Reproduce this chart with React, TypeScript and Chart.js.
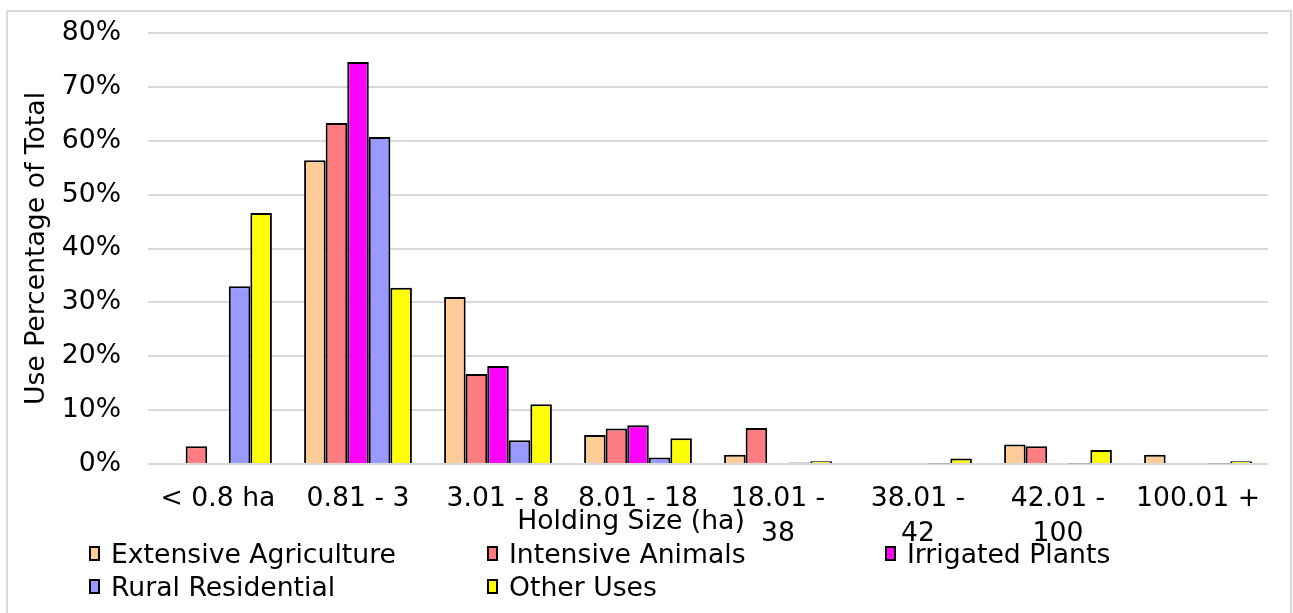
import React, { useEffect, useRef } from "react";
import { Chart, registerables } from "chart.js";

Chart.register(...registerables);

const categories: (string | string[])[] = [
  "< 0.8 ha",
  "0.81 - 3",
  "3.01 - 8",
  "8.01 - 18",
  ["18.01 -", "38"],
  ["38.01 -", "42"],
  ["42.01 -", "100"],
  "100.01 +",
];

const extensiveAgriculture = [0, 56.4, 31.0, 5.4, 1.7, 0, 3.6, 1.7];
const intensiveAnimals = [3.3, 63.3, 16.7, 6.6, 6.7, 0, 3.3, 0];
const irrigatedPlants = [0, 74.6, 18.2, 7.2, 0, 0, 0, 0];
const ruralResidential = [33.0, 60.7, 4.4, 1.2, 0.3, 0.1, 0.1, 0.1];
const otherUses = [46.6, 32.7, 11.1, 4.8, 0.5, 1.0, 2.6, 0.5];

const seriesNames = [
  "Extensive Agriculture",
  "Intensive Animals",
  "Irrigated Plants",
  "Rural Residential",
  "Other Uses",
];
const seriesColors = ["#FFCC99", "#FF7C80", "#FF00FF", "#9999FF", "#FFFF00"];
const seriesData = [
  extensiveAgriculture,
  intensiveAnimals,
  irrigatedPlants,
  ruralResidential,
  otherUses,
];

const yTicks = [0, 10, 20, 30, 40, 50, 60, 70, 80];
const xTitle = "Holding Size (ha)";
const yTitle = "Use Percentage of Total";

const FONT = "'DejaVu Sans', Verdana, sans-serif";
const FS = 26.67;

const borderPlugin = {
  id: "outerBorder",
  beforeDraw(chart: any) {
    const ctx = chart.ctx;
    ctx.save();
    ctx.strokeStyle = "#d9d9d9";
    ctx.lineWidth = 2;
    ctx.strokeRect(7, 11, 1284, 700);
    ctx.restore();
  },
};

const xTitlePlugin = {
  id: "xTitle",
  afterDraw(chart: any) {
    const ctx = chart.ctx;
    ctx.save();
    ctx.font = `${FS}px ${FONT}`;
    ctx.fillStyle = "#000";
    ctx.textAlign = "center";
    ctx.textBaseline = "middle";
    ctx.fillText(xTitle, 631, 522);
    ctx.restore();
  },
};

export default function App() {
  const canvasRef = useRef<HTMLCanvasElement | null>(null);

  useEffect(() => {
    if (!canvasRef.current) return;
    Chart.defaults.font.family = FONT;
    Chart.defaults.color = "#000";
    const chart = new Chart(canvasRef.current, {
      type: "bar",
      data: {
        labels: categories as any,
        datasets: seriesNames.map((name, i) => ({
          label: name,
          data: seriesData[i],
          backgroundColor: seriesColors[i],
          borderColor: "#000",
          borderWidth: 2,
          categoryPercentage: 0.77,
          barPercentage: 1,
        })),
      },
      options: {
        animation: false,
        responsive: false,
        layout: { padding: { top: 33, right: 25, bottom: 0, left: 0 } },
        plugins: {
          legend: { display: false },
          tooltip: { enabled: false },
        },
        scales: {
          x: {
            grid: { display: false, drawTicks: false },
            border: { display: false },
            ticks: {
              font: { size: FS, lineHeight: 1.3 },
              padding: 18,
              autoSkip: false,
              maxRotation: 0,
              minRotation: 0,
              color: "#000",
            },
            title: { display: false, text: xTitle },
            afterFit(scale: any) {
              scale.height = 149;
            },
          },
          y: {
            min: 0,
            max: 80,
            grid: { color: "#d9d9d9", lineWidth: 2, drawTicks: false },
            border: { display: false },
            afterBuildTicks(scale: any) {
              scale.ticks = yTicks.map((v) => ({ value: v }));
            },
            ticks: {
              font: { size: FS, lineHeight: 0.4 },
              padding: 27,
              color: "#000",
              callback: (v: any) => v + "%",
            },
            title: {
              display: true,
              text: yTitle,
              font: { size: FS },
              color: "#000",
              padding: { top: 21, bottom: 0 },
            },
            afterFit(scale: any) {
              scale.width = 148;
            },
          },
        },
      },
      plugins: [borderPlugin, xTitlePlugin],
    } as any);
    return () => chart.destroy();
  }, []);

  const legendPos = [
    { left: 89, top: 553 },
    { left: 487, top: 553 },
    { left: 885, top: 553 },
    { left: 89, top: 586 },
    { left: 487, top: 586 },
  ];

  return (
    <div
      style={{
        position: "absolute",
        left: 0,
        top: 0,
        width: 1293,
        height: 613,
        overflow: "hidden",
        background: "#fff",
      }}
    >
      <canvas
        ref={canvasRef}
        width={1293}
        height={613}
        style={{ display: "block", width: 1293, height: 613 }}
      />
      {seriesNames.map((name, i) => (
        <div
          key={name}
          style={{
            position: "absolute",
            left: legendPos[i].left,
            top: legendPos[i].top - 16,
            height: 32,
            display: "flex",
            alignItems: "center",
            fontFamily: FONT,
            fontSize: FS,
            color: "#000",
            whiteSpace: "nowrap",
          }}
        >
          <span
            style={{
              display: "inline-block",
              width: 11,
              height: 15,
              boxSizing: "border-box",
              border: "2px solid #000",
              background: seriesColors[i],
              marginRight: 11,
            }}
          />
          <span>{name}</span>
        </div>
      ))}
    </div>
  );
}
